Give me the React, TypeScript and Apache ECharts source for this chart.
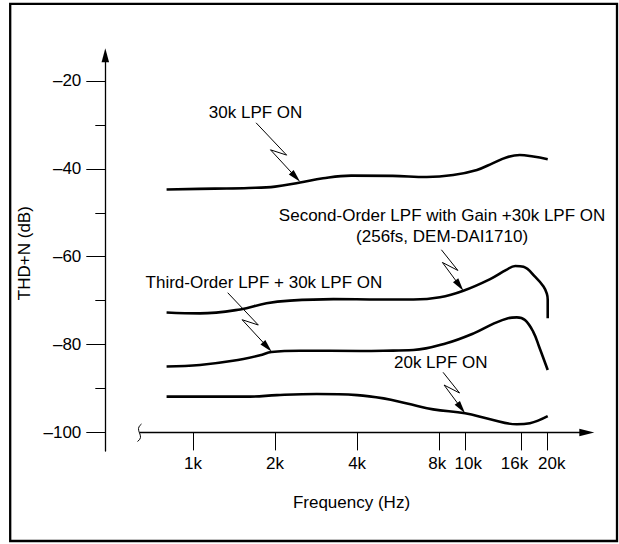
import React, { useEffect, useRef } from 'react';
import * as echarts from 'echarts';

// ---------- data ----------
const frequencyTicks = [1000, 2000, 4000, 8000, 10000, 16000, 20000];
const dbMajorTicks = [-100, -80, -60, -40, -20];
const dbMinorTicks = [-90, -70, -50, -30];

const lpf30kOn = [
  [800, -44.7], [1200, -44.5], [1600, -44.35], [2000, -44.05], [2470, -43.1],
  [3000, -42.15], [3800, -41.55], [5400, -41.6], [7200, -41.85], [9000, -41.4],
  [11000, -40.25], [12600, -38.7], [14100, -37.4], [15800, -36.85], [17700, -37.2],
  [20000, -37.8],
];

const secondOrderLpf = [
  [800, -72.7], [1060, -72.9], [1490, -72.0], [1860, -70.6], [2270, -70.0],
  [3270, -69.65], [4850, -69.75], [6430, -69.75], [8050, -69.25], [9810, -67.75],
  [12300, -65.1], [14100, -63.0], [15200, -62.1], [16300, -62.3], [18000, -64.6],
  [19300, -66.8], [19850, -68.4], [20000, -69.8], [20000, -74.0],
];

const thirdOrderLpf = [
  [800, -85.0], [1060, -84.65], [1400, -83.7], [1760, -82.45], [1940, -81.7],
  [2470, -81.4], [4100, -81.45], [5000, -81.4], [6430, -81.25], [8500, -79.7],
  [10700, -77.45], [12600, -75.3], [14300, -74.0], [15400, -73.8], [16500, -74.4],
  [17700, -77.1], [18600, -80.5], [20000, -85.8],
];

const lpf20kOn = [
  [800, -91.85], [1620, -91.85], [2030, -91.5], [2840, -91.25], [4000, -91.5],
  [5000, -92.25], [6100, -93.4], [7600, -94.75], [9950, -95.65], [12300, -97.0],
  [15400, -98.15], [17200, -97.9], [20000, -96.3],
];

const annotationLabels = [
  ['30k LPF ON'],
  ['Second-Order LPF with Gain +30k LPF ON', '(256fs, DEM-DAI1710)'],
  ['Third-Order LPF + 30k LPF ON'],
  ['20k LPF ON'],
];
// where each leader arrow points on its curve: [frequency Hz, dB]
const annotationTargets = [
  [2470, -42.95],
  [9810, -67.75],
  [1944, -81.63],
  [9950, -95.65],
];

// ---------- styles ----------
const FONT = '"Liberation Sans", Arial, Helvetica, sans-serif';
const FS = 17;
const X_MIN = 640;
const X_MAX = 27820;
const Y_MIN = -104.23;
const Y_MAX = -14.15;
const LEADER_LONG = { s: [-44, -59], p1: [-13.4, -26.7], p2: [-29.6, -32] };
const LEADER_SHORT = { s: [-22, -41], p1: [-5.5, -20.3], p2: [-21, -28.3] };
const annotationStyle = [
  { leader: LEADER_LONG, text: [-44.5, -69.7], lineGap: 0 },
  { leader: LEADER_SHORT, text: [-21.3, -75.7], lineGap: 21.7 },
  { leader: LEADER_LONG, text: [-7.8, -69.7], lineGap: 0 },
  { leader: LEADER_SHORT, text: [-24.3, -50.5], lineGap: 0 },
];
// horizontal nudges of crowded tick labels (px), as in the original drawing
const labelNudge: Record<string, number> = { '8k': -2, '10k': 2.6, '16k': -6.8, '20k': 4 };

const dash = (v: number) => (v < 0 ? '\u2013' + Math.abs(v) : String(v));
const kText = (v: number) => Math.round(v / 1000) + 'k';
const richKey = (t: string) => 'r' + t.replace(/\W/g, '');
const kLabel = (v: number) => {
  const t = kText(v);
  return labelNudge[t] != null ? `{${richKey(t)}|${t}}` : t;
};
const richStyles: Record<string, any> = {};
Object.keys(labelNudge).forEach((t) => {
  const n = labelNudge[t];
  richStyles[richKey(t)] = {
    fontSize: FS,
    fontFamily: FONT,
    color: '#000',
    padding: n < 0 ? [0, -2 * n, 0, 0] : [0, 0, 0, 2 * n],
  };
});

const lineSeries = (name: string, data: number[][]) => ({
  name,
  type: 'line',
  data,
  symbol: 'none',
  showSymbol: false,
  smooth: 0.4,
  silent: true,
  xAxisIndex: 0,
  yAxisIndex: 0,
  lineStyle: { color: '#000', width: 2.6 },
  z: 3,
});

const freqAxis = (ticks: number[], withLine: boolean) => ({
  type: 'log',
  logBase: 2,
  min: X_MIN,
  max: X_MAX,
  position: 'bottom',
  offset: -18.6,
  axisLine: withLine
    ? {
        show: true,
        onZero: false,
        symbol: ['none', 'triangle'],
        symbolSize: [7.5, 15],
        lineStyle: { color: '#000', width: 1.3 },
      }
    : { show: false, onZero: false },
  axisTick: {
    show: true,
    customValues: ticks,
    length: 18,
    lineStyle: { color: '#000', width: 1 },
  },
  minorTick: { show: false },
  axisLabel: {
    show: true,
    customValues: ticks,
    formatter: kLabel,
    rich: richStyles,
    margin: 23,
    showMinLabel: true,
    showMaxLabel: true,
    hideOverlap: false,
    fontSize: FS,
    fontFamily: FONT,
    color: '#000',
  },
  splitLine: { show: false },
  minorSplitLine: { show: false },
});

export default function App() {
  const ref = useRef<HTMLDivElement>(null);

  useEffect(() => {
    if (!ref.current) return;
    const chart = echarts.init(ref.current, null, { renderer: 'svg' });

    const renderAnnotation = (params: any, api: any) => {
      const idx = api.value(2);
      const tip = api.coord([api.value(0), api.value(1)]);
      const st = annotationStyle[idx];
      const L = st.leader;
      const pt = (o: number[]) => [tip[0] + o[0], tip[1] + o[1]];
      const S = pt(L.s);
      const P1 = pt(L.p1);
      const P2 = pt(L.p2);
      const dx = tip[0] - P2[0];
      const dy = tip[1] - P2[1];
      const len = Math.hypot(dx, dy);
      const ux = dx / len;
      const uy = dy / len;
      const hl = 13;
      const hw = 3.3;
      const bx = tip[0] - ux * hl;
      const by = tip[1] - uy * hl;
      const children: any[] = [
        {
          type: 'polyline',
          shape: { points: [S, P1, P2, [bx + ux * 3, by + uy * 3]] },
          style: { stroke: '#000', lineWidth: 1, fill: null },
        },
        {
          type: 'polygon',
          shape: { points: [tip, [bx - uy * hw, by + ux * hw], [bx + uy * hw, by - ux * hw]] },
          style: { fill: '#000', stroke: null },
        },
      ];
      annotationLabels[idx].forEach((line, i) => {
        children.push({
          type: 'text',
          style: {
            text: line,
            x: tip[0] + st.text[0],
            y: tip[1] + st.text[1] + i * st.lineGap,
            align: 'center',
            verticalAlign: 'middle',
            fontSize: FS,
            fontFamily: FONT,
            fill: '#000',
          },
        });
      });
      return { type: 'group', children };
    };

    const mainX: any = freqAxis(frequencyTicks.slice(0, -1), true);
    mainX.name = 'Frequency (Hz)';
    mainX.nameLocation = 'middle';
    mainX.nameGap = 62;
    mainX.nameTextStyle = { fontSize: FS, fontFamily: FONT, color: '#000', padding: [0, 24, 0, 0] };

    const option: any = {
      animation: false,
      backgroundColor: '#fff',
      grid: {
        left: 140.16,
        right: 32.2,
        top: 55.3,
        bottom: 93,
        containLabel: false,
        outerBoundsMode: 'none',
      },
      xAxis: [mainX, freqAxis(frequencyTicks.slice(-1), false)],
      yAxis: [
        {
          type: 'value',
          min: Y_MIN,
          max: Y_MAX,
          position: 'left',
          offset: 34.85,
          axisLine: {
            show: true,
            onZero: false,
            symbol: ['none', 'triangle'],
            symbolSize: [7.5, 14],
            lineStyle: { color: '#000', width: 1.3 },
          },
          axisTick: {
            show: true,
            customValues: dbMajorTicks,
            length: 19,
            lineStyle: { color: '#000', width: 1 },
          },
          axisLabel: {
            show: true,
            customValues: dbMajorTicks,
            formatter: (v: number) => dash(v),
            margin: 24,
            showMinLabel: true,
            showMaxLabel: true,
            fontSize: FS,
            fontFamily: FONT,
            color: '#000',
          },
          splitLine: { show: false },
          name: 'THD+N (dB)',
          nameLocation: 'middle',
          nameGap: 70,
          nameTextStyle: { fontSize: FS, fontFamily: FONT, color: '#000' },
        },
        {
          type: 'value',
          min: Y_MIN,
          max: Y_MAX,
          position: 'left',
          offset: 34.85,
          axisLine: { show: false },
          axisTick: {
            show: true,
            customValues: dbMinorTicks,
            length: 10,
            lineStyle: { color: '#000', width: 1 },
          },
          axisLabel: { show: false },
          splitLine: { show: false },
        },
      ],
      graphic: [
        {
          type: 'rect',
          shape: { x: 10.2, y: 3.8, width: 606.8, height: 537.2 },
          style: { fill: 'none', stroke: '#000', lineWidth: 2.3 },
          silent: true,
        },
        {
          type: 'bezierCurve',
          shape: { x1: 141.5, y1: 424, cpx1: 133, cpy1: 430, cpx2: 146, cpy2: 436, x2: 137.5, y2: 441.5 },
          style: { fill: 'none', stroke: '#000', lineWidth: 1 },
          silent: true,
        },
      ],
      series: [
        lineSeries('30k LPF ON', lpf30kOn),
        lineSeries('Second-Order LPF with Gain +30k LPF ON', secondOrderLpf),
        lineSeries('Third-Order LPF + 30k LPF ON', thirdOrderLpf),
        lineSeries('20k LPF ON', lpf20kOn),
        {
          type: 'custom',
          name: 'annotations',
          xAxisIndex: 0,
          yAxisIndex: 0,
          clip: false,
          silent: true,
          z: 4,
          data: annotationTargets.map((t, i) => [t[0], t[1], i]),
          renderItem: renderAnnotation,
        },
      ],
    };

    chart.setOption(option);
    return () => chart.dispose();
  }, []);

  return (
    <div
      ref={ref}
      style={{ position: 'fixed', left: 0, top: 0, width: 619, height: 544, background: '#fff' }}
    />
  );
}
